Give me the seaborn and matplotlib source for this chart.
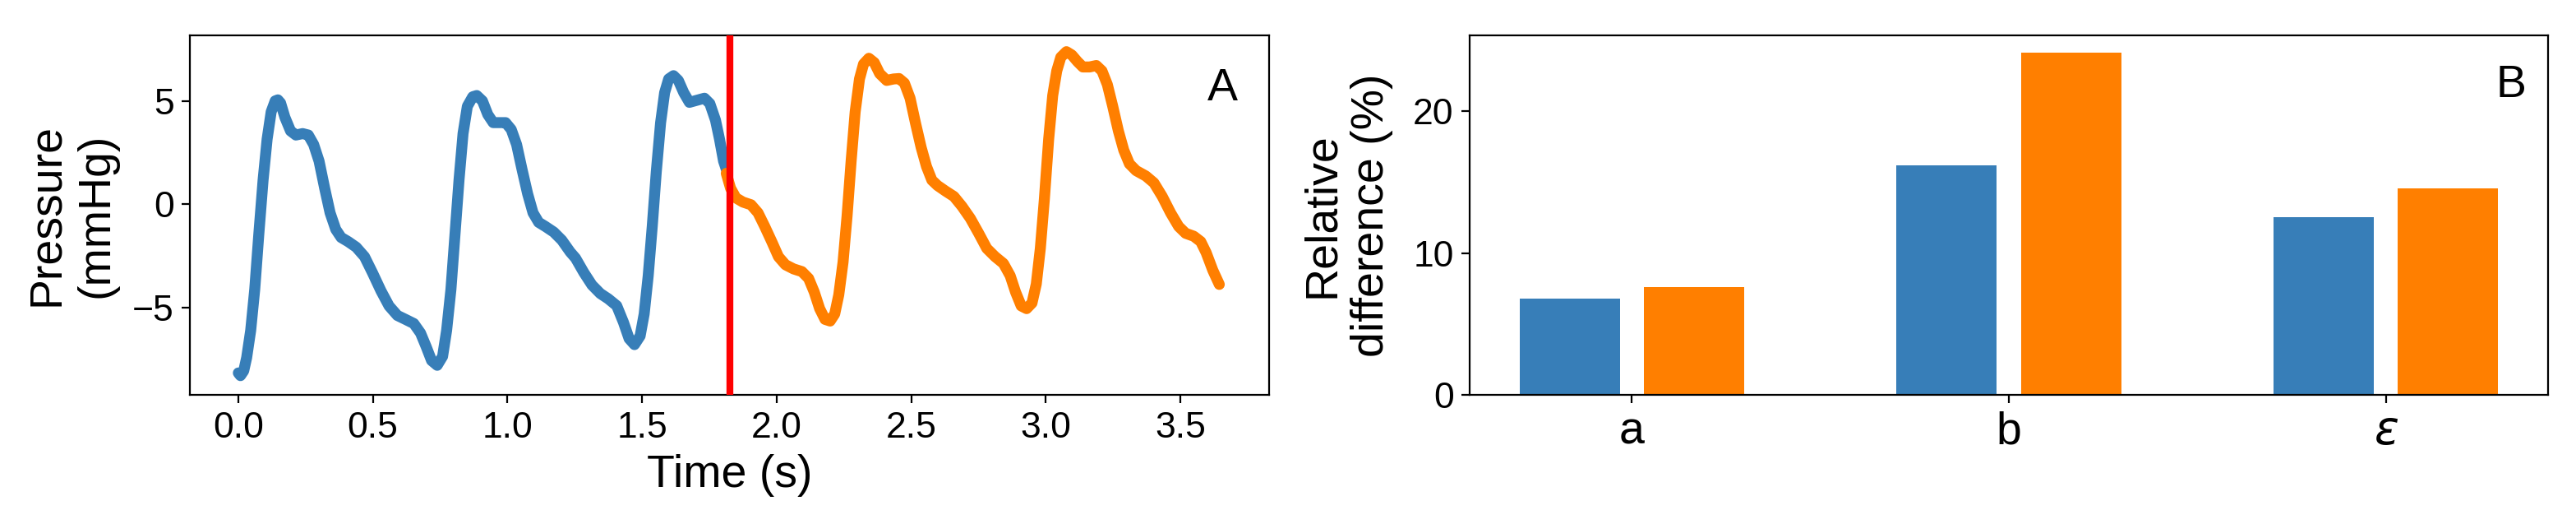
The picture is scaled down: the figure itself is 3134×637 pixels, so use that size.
import matplotlib
matplotlib.use("Agg")
import matplotlib.pyplot as plt
import pandas as pd
import seaborn as sns

# ---------------- data ----------------
time_first = [0.000, 0.008, 0.020, 0.031, 0.046, 0.061, 0.076, 0.092, 0.107, 0.122,
              0.137, 0.147, 0.157, 0.173, 0.194, 0.214, 0.239, 0.260, 0.280, 0.300,
              0.321, 0.341, 0.362, 0.382, 0.408, 0.438, 0.469, 0.499, 0.530, 0.560,
              0.591, 0.621, 0.652, 0.677, 0.698, 0.718, 0.739, 0.759, 0.774, 0.790,
              0.805, 0.820, 0.835, 0.851, 0.871, 0.886, 0.907, 0.927, 0.947, 0.973,
              0.993, 1.014, 1.034, 1.054, 1.075, 1.095, 1.116, 1.141, 1.172, 1.202,
              1.233, 1.253, 1.284, 1.314, 1.345, 1.375, 1.406, 1.431, 1.452, 1.472,
              1.493, 1.508, 1.523, 1.538, 1.553, 1.569, 1.584, 1.599, 1.617, 1.635,
              1.655, 1.676, 1.701, 1.732, 1.752, 1.773, 1.788, 1.803, 1.813]
pressure_first = [-8.15, -8.28, -8.05, -7.41, -6.09, -4.11, -1.47, 1.17, 3.15, 4.47,
                  5.00, 5.05, 4.90, 4.21, 3.55, 3.35, 3.42, 3.35, 2.89, 2.09,
                  0.77, -0.41, -1.21, -1.60, -1.80, -2.07, -2.53, -3.32, -4.18, -4.91,
                  -5.37, -5.56, -5.76, -6.22, -6.88, -7.55, -7.78, -7.35, -6.09, -4.11,
                  -1.47, 1.17, 3.42, 4.74, 5.20, 5.26, 5.00, 4.34, 3.95, 3.95,
                  3.95, 3.62, 2.89, 1.70, 0.51, -0.41, -0.87, -1.07, -1.34, -1.73,
                  -2.30, -2.60, -3.30, -3.90, -4.31, -4.57, -4.90, -5.70, -6.49, -6.78,
                  -6.36, -5.30, -3.45, -1.07, 1.57, 3.94, 5.40, 6.06, 6.22, 5.99,
                  5.40, 4.93, 5.02, 5.13, 4.87, 4.07, 3.15, 2.09, 1.70]

time_second = [1.813, 1.829, 1.849, 1.875, 1.905, 1.931, 1.956, 1.982, 2.007, 2.033,
               2.063, 2.094, 2.119, 2.140, 2.160, 2.180, 2.199, 2.216, 2.231, 2.247,
               2.262, 2.277, 2.292, 2.308, 2.323, 2.343, 2.363, 2.383, 2.409, 2.435,
               2.455, 2.475, 2.496, 2.516, 2.537, 2.557, 2.577, 2.598, 2.628, 2.659,
               2.689, 2.720, 2.751, 2.781, 2.812, 2.843, 2.868, 2.888, 2.909, 2.929,
               2.949, 2.965, 2.980, 2.995, 3.011, 3.026, 3.041, 3.056, 3.077, 3.097,
               3.118, 3.138, 3.163, 3.188, 3.209, 3.229, 3.249, 3.270, 3.290, 3.311,
               3.336, 3.372, 3.402, 3.433, 3.464, 3.494, 3.520, 3.550, 3.576, 3.596,
               3.621, 3.645]
pressure_second = [1.50, 0.78, 0.31, 0.11, -0.02, -0.41, -1.07, -1.80, -2.53, -2.92,
                   -3.12, -3.25, -3.58, -4.24, -5.04, -5.56, -5.64, -5.30, -4.38, -2.79,
                   -0.55, 2.09, 4.47, 6.06, 6.78, 7.06, 6.85, 6.32, 5.99, 6.06,
                   6.08, 5.86, 5.13, 3.94, 2.76, 1.83, 1.17, 0.91, 0.64, 0.38,
                   -0.10, -0.68, -1.40, -2.13, -2.53, -2.86, -3.45, -4.24, -4.91, -5.04,
                   -4.77, -3.85, -2.13, 0.25, 3.15, 5.26, 6.45, 7.11, 7.38, 7.22,
                   6.90, 6.64, 6.64, 6.71, 6.45, 5.79, 4.74, 3.55, 2.62, 1.96,
                   1.63, 1.37, 1.04, 0.38, -0.41, -1.07, -1.40, -1.54, -1.80, -2.33,
                   -3.19, -3.87]

split_time = 1.825

params = ["a", "b", r"$\varepsilon$"]
groups = ["first", "second"]
diff_first = [6.81, 16.17, 12.53]
diff_second = [7.63, 24.17, 14.56]

# ---------------- style ----------------
blue = "#377eb8"
orange = "#ff7f00"

sns.set_style("ticks")
plt.rcParams["font.family"] = ["Liberation Sans", "DejaVu Sans"]
plt.rcParams["mathtext.fontset"] = "dejavusans"
plt.rcParams.update({
    "axes.edgecolor": "black",
    "axes.labelcolor": "black",
    "text.color": "black",
    "xtick.color": "black",
    "ytick.color": "black",
    "axes.linewidth": 0.8,
    "xtick.major.width": 0.8,
    "ytick.major.width": 0.8,
    "xtick.major.size": 3.5,
    "ytick.major.size": 3.5,
})

fig = plt.figure(figsize=(15.67, 3.185), dpi=200)
axA = fig.add_axes([0.07371, 0.2460, 0.41895, 0.6870])
axB = fig.add_axes([0.57052, 0.2460, 0.41863, 0.6870])

# ---------------- panel A ----------------
sns.lineplot(x=time_first, y=pressure_first, color=blue, linewidth=4.8,
             sort=False, estimator=None, solid_joinstyle="round", ax=axA)
sns.lineplot(x=time_second, y=pressure_second, color=orange, linewidth=4.8,
             sort=False, estimator=None, solid_joinstyle="round", ax=axA)
axA.axvline(split_time, color="#ff0000", linewidth=3.0, zorder=5)

axA.set_xlim(-0.18, 3.83)
axA.set_ylim(-9.22, 8.18)
axA.set_xticks([0.0, 0.5, 1.0, 1.5, 2.0, 2.5, 3.0, 3.5])
axA.set_yticks([-5, 0, 5])
axA.tick_params(labelsize=16)
axA.set_xlabel("Time (s)", fontsize=20)
axA.set_ylabel("Pressure\n(mmHg)", fontsize=20)
axA.yaxis.set_label_coords(-0.0668, 0.5)
axA.text(0.971, 0.819, "A", transform=axA.transAxes, ha="right",
         va="baseline", fontsize=20)

# ---------------- panel B ----------------
df = pd.DataFrame({
    "param": params * 2,
    "group": [g for g in groups for _ in params],
    "value": diff_first + diff_second,
})
sns.barplot(data=df, x="param", y="value", hue="group", order=params,
            hue_order=groups, palette=[blue, orange], saturation=1,
            width=0.66, gap=0.195, linewidth=0, errorbar=None,
            legend=False, ax=axB)
axB.set_xlim(-0.43, 2.43)
axB.set_ylim(0, 25.38)
axB.set_yticks([0, 10, 20])
axB.tick_params(axis="y", labelsize=16)
axB.tick_params(axis="x", labelsize=20)
axB.set_xlabel("")
axB.set_ylabel("Relative\ndifference (%)", fontsize=20)
axB.yaxis.set_label_coords(-0.0709, 0.5)
axB.text(0.980, 0.828, "B", transform=axB.transAxes, ha="right",
         va="baseline", fontsize=20)

for ax in (axA, axB):
    for s in ax.spines.values():
        s.set_visible(True)

fig.savefig("out.png", dpi=200)
